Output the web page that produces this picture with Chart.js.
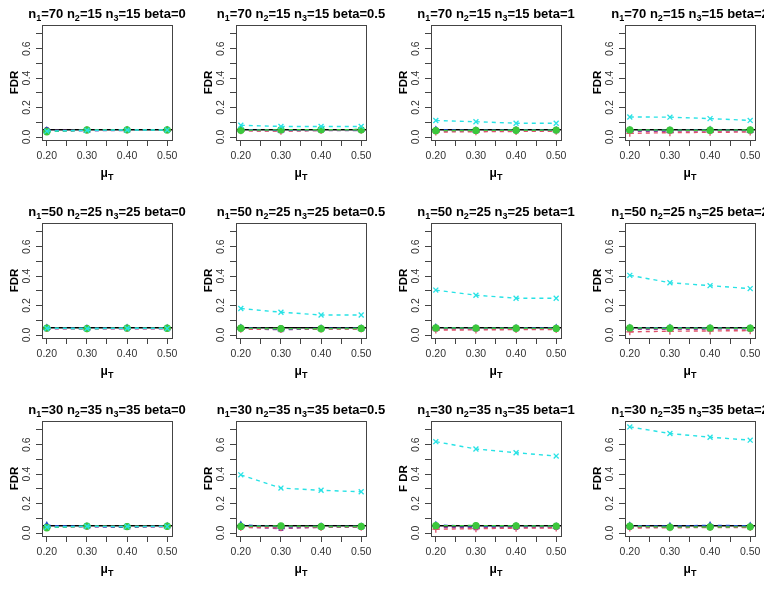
<!DOCTYPE html>
<html>
<head>
<meta charset="utf-8">
<script src="https://cdn.jsdelivr.net/npm/chart.js@4.4.1/dist/chart.umd.min.js"></script>
<style>
  html, body { margin:0; padding:0; background:#fff; }
  body { width:764px; height:593px; position:relative; overflow:hidden; font-family:"Liberation Sans", Arial, sans-serif; color:#000; }
  canvas { position:absolute; }
  .ttl { position:absolute; font-weight:bold; font-size:13px; line-height:15px; white-space:nowrap; transform:translateX(-50%); }
  .ttl sub, .xl sub { font-size:9px; vertical-align:-3px; line-height:0; }
  .xl { position:absolute; font-weight:bold; font-size:12px; line-height:14px; white-space:nowrap; transform:translateX(-50%); }
</style>
</head>
<body>
<script>
// ---------------- data ----------------
const muT = [0.20, 0.30, 0.40, 0.50];
const n1Values = [70, 50, 30];
const n2Values = [15, 25, 35];
const n3Values = [15, 25, 35];
const betaValues = ['0', '0.5', '1', '2'];
const yAxisLabels = ['FDR','FDR','FDR','FDR','FDR','FDR','FDR','FDR','FDR','FDR','F DR','FDR'];
const xTickValues = [0.20, 0.25, 0.30, 0.35, 0.40, 0.45, 0.50];
const xTickLabels = ['0.20', '', '0.30', '', '0.40', '', '0.50'];
const yTickValues = [0.0, 0.1, 0.2, 0.3, 0.4, 0.5, 0.6, 0.7];
const yTickLabels = ['0.0', '', '0.2', '', '0.4', '', '0.6', ''];
const nominalLevel = 0.05;

// series values: one row of 4 values (muT = 0.2..0.5) per panel, panels row-major
const blackFDR = [
  [0.048,0.050,0.049,0.050],[0.050,0.048,0.049,0.051],[0.047,0.049,0.050,0.049],[0.046,0.048,0.047,0.046],
  [0.049,0.047,0.048,0.047],[0.048,0.047,0.046,0.047],[0.046,0.047,0.046,0.046],[0.045,0.046,0.046,0.045],
  [0.046,0.048,0.047,0.047],[0.049,0.046,0.047,0.046],[0.045,0.042,0.044,0.043],[0.043,0.042,0.044,0.043]
];
const redFDR = [
  [0.044,0.046,0.047,0.047],[0.042,0.040,0.045,0.046],[0.034,0.036,0.038,0.040],[0.025,0.030,0.032,0.034],
  [0.044,0.043,0.045,0.044],[0.040,0.038,0.040,0.041],[0.034,0.035,0.037,0.038],[0.022,0.026,0.028,0.030],
  [0.043,0.044,0.044,0.045],[0.038,0.036,0.038,0.039],[0.026,0.030,0.033,0.034],[0.034,0.036,0.037,0.038]
];
const greenFDR = [
  [0.036,0.048,0.049,0.048],[0.046,0.049,0.050,0.049],[0.043,0.045,0.046,0.047],[0.048,0.047,0.046,0.048],
  [0.047,0.044,0.047,0.046],[0.046,0.044,0.043,0.045],[0.048,0.047,0.046,0.045],[0.048,0.046,0.047,0.046],
  [0.036,0.047,0.044,0.046],[0.045,0.048,0.044,0.045],[0.050,0.051,0.049,0.047],[0.046,0.040,0.041,0.042]
];
const blueFDR = [
  [0.046,0.044,0.047,0.048],[0.052,0.045,0.049,0.048],[0.050,0.046,0.048,0.047],[0.047,0.046,0.049,0.045],
  [0.050,0.046,0.049,0.047],[0.050,0.040,0.046,0.046],[0.052,0.045,0.047,0.049],[0.049,0.050,0.048,0.046],
  [0.052,0.045,0.040,0.047],[0.056,0.042,0.045,0.044],[0.055,0.046,0.047,0.045],[0.051,0.047,0.053,0.049]
];
const magentaFDR = [
  [0.042,0.044,0.045,0.045],[0.044,0.042,0.044,0.045],[0.040,0.041,0.042,0.043],[0.038,0.040,0.041,0.040],
  [0.043,0.042,0.043,0.043],[0.042,0.036,0.042,0.042],[0.041,0.040,0.041,0.042],[0.038,0.039,0.040,0.040],
  [0.042,0.043,0.042,0.043],[0.041,0.030,0.040,0.041],[0.038,0.036,0.037,0.038],[0.040,0.038,0.040,0.040]
];
const cyanFDR = [
  [0.040,0.046,0.048,0.048],[0.080,0.072,0.072,0.072],[0.112,0.104,0.094,0.094],[0.136,0.135,0.125,0.113],
  [0.046,0.044,0.046,0.045],[0.180,0.155,0.136,0.136],[0.305,0.270,0.250,0.250],[0.405,0.355,0.335,0.315],
  [0.040,0.046,0.045,0.045],[0.395,0.305,0.290,0.280],[0.620,0.570,0.545,0.522],[0.720,0.675,0.650,0.630]
];

// first entry is drawn on top
const seriesDefs = [
  { name:'cyan',    values:cyanFDR,    color:'#28E2E5', fill:'#28E2E5', style:'crossRot', r:3.5 },
  { name:'green',   values:greenFDR,   color:'#3CC83C', fill:'#3CC83C', style:'circle',   r:3 },
  { name:'blue',    values:blueFDR,    color:'#2050C8', fill:'rgba(0,0,0,0)', style:'triangle', r:3 },
  { name:'red',     values:redFDR,     color:'#DF536B', fill:'#DF536B', style:'cross',    r:3.5 },
  { name:'magenta', values:magentaFDR, color:'#8E3FA0', fill:'rgba(0,0,0,0)', style:'rect', r:2.5 },
  { name:'black',   values:blackFDR,   color:'#222222', fill:'#222222', style:'circle',   r:2.2 }
];

// ---------------- layout ----------------
const boxLefts = [42, 236, 431, 625];
const boxTops = [25, 223, 421];
const boxW = 130, boxH = 115;
const CW = 194, CH = 198;
const FONT = '"Liberation Sans", Arial, sans-serif';

const boxPlugin = {
  id:'box',
  beforeDatasetsDraw(chart) {
    const {ctx, chartArea:a, scales} = chart;
    const y = scales.y.getPixelForValue(nominalLevel);
    ctx.save();
    ctx.strokeStyle = '#000';
    ctx.lineWidth = 1.5;
    ctx.beginPath(); ctx.moveTo(a.left, y); ctx.lineTo(a.right, y); ctx.stroke();
    ctx.restore();
  },
  afterDraw(chart) {
    const {ctx, chartArea:a, scales} = chart;
    ctx.save();
    ctx.strokeStyle = '#444';
    ctx.lineWidth = 1;
    ctx.strokeRect(Math.round(a.left)+0.5, Math.round(a.top)+0.5, Math.round(a.right-a.left), Math.round(a.bottom-a.top));
    // rotated y tick labels (R style)
    ctx.fillStyle = '#333';
    ctx.font = '10.5px ' + FONT;
    ctx.textAlign = 'center';
    ctx.textBaseline = 'middle';
    yTickValues.forEach((v, i) => {
      if (!yTickLabels[i]) return;
      const py = scales.y.getPixelForValue(v);
      ctx.save();
      ctx.translate(a.left - 15, py);
      ctx.rotate(-Math.PI / 2);
      ctx.fillText(yTickLabels[i], 0, 0);
      ctx.restore();
    });
    ctx.restore();
  }
};

for (let r = 0; r < 3; r++) {
  for (let c = 0; c < 4; c++) {
    const p = r * 4 + c;
    const cv = document.createElement('canvas');
    cv.width = CW; cv.height = CH;
    cv.style.left = (boxLefts[c] - 42) + 'px';
    cv.style.top = (boxTops[r] - 25) + 'px';
    document.body.appendChild(cv);

    const t = document.createElement('div');
    t.className = 'ttl';
    t.innerHTML = 'n<sub>1</sub>=' + n1Values[r] + ' n<sub>2</sub>=' + n2Values[r] + ' n<sub>3</sub>=' + n3Values[r] + ' beta=' + betaValues[c];
    t.style.left = (boxLefts[c] + boxW / 2) + 'px';
    t.style.top = (boxTops[r] - 19) + 'px';
    document.body.appendChild(t);

    const xl = document.createElement('div');
    xl.className = 'xl';
    xl.innerHTML = '&mu;<sub>T</sub>';
    xl.style.left = (boxLefts[c] + boxW / 2) + 'px';
    xl.style.top = (boxTops[r] + boxH + 26) + 'px';
    document.body.appendChild(xl);

    const datasets = seriesDefs.map(s => ({
      label: s.name,
      data: muT.map((x, i) => ({ x: x, y: s.values[p][i] })),
      borderColor: s.color,
      backgroundColor: s.fill,
      pointBorderColor: s.color,
      pointBackgroundColor: s.fill,
      pointStyle: s.style,
      pointRadius: s.r,
      pointBorderWidth: 1.3,
      borderWidth: 1.4,
      borderDash: [4, 4],
      fill: false,
      tension: 0
    }));

    new Chart(cv, {
      type: 'line',
      data: { datasets },
      options: {
        responsive: false,
        animation: false,
        devicePixelRatio: 1,
        layout: { padding: { left: 0, top: 25, right: CW - 42 - boxW, bottom: CH - 25 - boxH - 22 } },
        plugins: { legend: { display: false }, tooltip: { enabled: false }, title: { display: false } },
        scales: {
          x: {
            type: 'linear', min: 0.188, max: 0.512,
            afterBuildTicks: s => { s.ticks = xTickValues.map(v => ({ value: v })); },
            afterFit: s => { s.height = 22; },
            ticks: { autoSkip: false, maxRotation: 0, minRotation: 0, padding: 4, color: '#333',
                     font: { size: 10.5, family: FONT },
                     callback: (v, i) => xTickLabels[i] },
            grid: { drawOnChartArea: false, drawTicks: true, tickLength: 6, color: '#444' },
            border: { display: false }
          },
          y: {
            type: 'linear', min: -0.02, max: 0.76,
            afterBuildTicks: s => { s.ticks = yTickValues.map(v => ({ value: v })); },
            afterFit: s => { s.width = 42; },
            ticks: { display: false },
            grid: { drawOnChartArea: false, drawTicks: true, tickLength: 6, color: '#444' },
            border: { display: false },
            title: { display: true, text: yAxisLabels[p], color: '#000',
                     font: { size: 11.5, weight: 'bold', family: FONT }, padding: { top: 8, bottom: 0 } }
          }
        }
      },
      plugins: [boxPlugin]
    });
  }
}
</script>
</body>
</html>
